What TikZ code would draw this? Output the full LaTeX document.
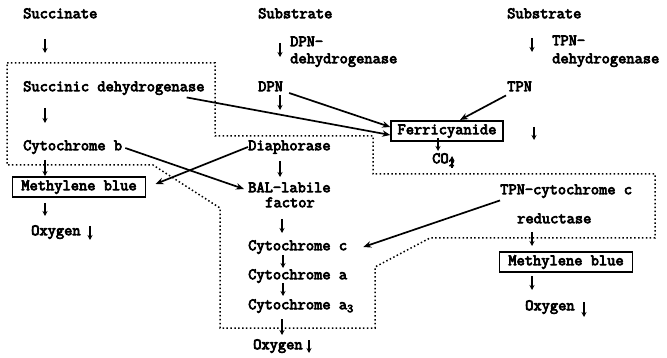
\documentclass[tikz,border=0pt]{standalone}
\usepackage{fontspec}
\newfontfamily\twfont{Latin Modern Mono}[FakeBold=4.5]
\usetikzlibrary{arrows.meta}
\begin{document}
\begin{tikzpicture}[x=1pt,y=-1pt,
  lbl/.style={font=\twfont\fontsize{16}{17}\selectfont, inner sep=0pt, text height=9.5pt, text depth=3pt},
  boxed/.style={lbl, draw, line width=1.6pt, inner xsep=9pt, inner ysep=4pt},
  arr/.style={line width=1.7pt, -{Stealth[length=8pt,width=6.5pt]}},
  sarr/.style={line width=1.6pt, -{Stealth[length=5pt,width=5pt]}},
  dotline/.style={line width=1.5pt, dash pattern=on 1.5pt off 2.4pt}]
\useasboundingbox (0,0) rectangle (667,358);
% texts
\node[lbl,anchor=west] (succ) at (23,15) {Succinate};
\node[lbl,anchor=west] (sub1) at (258,15) {Substrate};
\node[lbl,anchor=west] (sub2) at (507,15) {Substrate};
\node[lbl,anchor=west] (dpnd1) at (290,43) {DPN-};
\node[lbl,anchor=west] (dpnd2) at (290,60) {dehydrogenase};
\node[lbl,anchor=west] (tpnd1) at (552,42) {TPN-};
\node[lbl,anchor=west] (tpnd2) at (552,60) {dehydrogenase};
\node[lbl,anchor=west] (sdh) at (23,88) {Succinic dehydrogenase};
\node[lbl,anchor=west] (dpn) at (258,88) {DPN};
\node[lbl,anchor=west] (tpn) at (507,88) {TPN};
\node[boxed,inner xsep=6.5pt] (fer) at (447,131) {Ferricyanide};
\node[lbl,anchor=west] (co2) at (432,160) {CO\raisebox{-3pt}{\fontsize{11}{11}\selectfont 2}};
\node[lbl,anchor=west] (cytb) at (23,147) {Cytochrome b};
\node[lbl,anchor=west] (dia) at (248,147) {Diaphorase};
\node[boxed] (mb1) at (79,187) {Methylene blue};
\node[lbl,anchor=west] (oxy1) at (31,232) {Oxygen};
\node[lbl,anchor=west] (bal) at (248,189) {BAL-labile};
\node[lbl] (fac) at (290,204) {factor};
\node[lbl,anchor=west] (tpnc) at (500,191) {TPN-cytochrome c};
\node[lbl,anchor=west] (red) at (517,220) {reductase};
\node[lbl,anchor=west] (cytc) at (248,247) {Cytochrome c};
\node[lbl,anchor=west] (cyta) at (248,276) {Cytochrome a};
\node[lbl,anchor=west] (cyta3) at (248,306) {Cytochrome a\raisebox{-3pt}{\fontsize{12}{12}\selectfont 3}};
\node[boxed] (mb2) at (566,262) {Methylene blue};
\node[lbl,anchor=west] (oxy3) at (525,307) {Oxygen};
\node[lbl,anchor=west] (oxy2) at (253,346) {Oxygen};
% dotted outline
\draw[dotline] (7,63) -- (215,63) -- (215,136) -- (373,136) -- (373,174) -- (655,174)
  -- (655,238) -- (430,238) -- (375,267) -- (375,328) -- (220,328) -- (220,208)
  -- (153,165) -- (7,165) -- cycle;
% long arrows
\draw[arr] ([xshift=-18pt,yshift=-3pt]sdh.south east) -- ([yshift=-4pt]fer.west);
\draw[arr] ([xshift=6pt,yshift=-5pt]dpn.east) -- ([yshift=4pt]fer.west);
\draw[arr] ([xshift=-1pt,yshift=-1pt]tpn.south west) -- ([xshift=13pt]fer.north);
\draw[arr] ([xshift=3pt,yshift=-1pt]cytb.east) -- ([xshift=-4pt]bal.west);
\draw[arr] (dia.west) -- ([xshift=9pt,yshift=3pt]mb1.east);
\draw[arr] ([yshift=-3pt]tpnc.south west) -- ([xshift=16pt]cytc.east);
% short arrows, left column
\draw[sarr] (45,39) -- (45,53);
\draw[sarr] (45,108) -- (45,123);
\draw[sarr] (45,160) -- (45,176);
\draw[sarr] (45,203) -- (45,216);
\draw[sarr] (90,226) -- (90,240);
% middle column
\draw[sarr] (280,43) -- (280,57);
\draw[sarr] (280,95) -- (280,110);
\draw[sarr] (280,161) -- (280,177);
\draw[sarr] (282,219) -- (282,233);
\draw[sarr] (283,255) -- (283,268);
\draw[sarr] (283,283) -- (283,296);
\draw[sarr] (282,319) -- (282,335);
\draw[sarr] (309,340) -- (309,353);
% right column
\draw[sarr] (532,38) -- (532,52);
\draw[sarr] (438,138) -- (438,151);
\draw[sarr] (452,168) -- (452,156);
\draw[sarr] (534,127) -- (534,140);
\draw[sarr] (532,232) -- (532,246);
\draw[sarr] (532,276) -- (532,290);
\draw[sarr] (584,302) -- (584,317);
\end{tikzpicture}
\end{document}
